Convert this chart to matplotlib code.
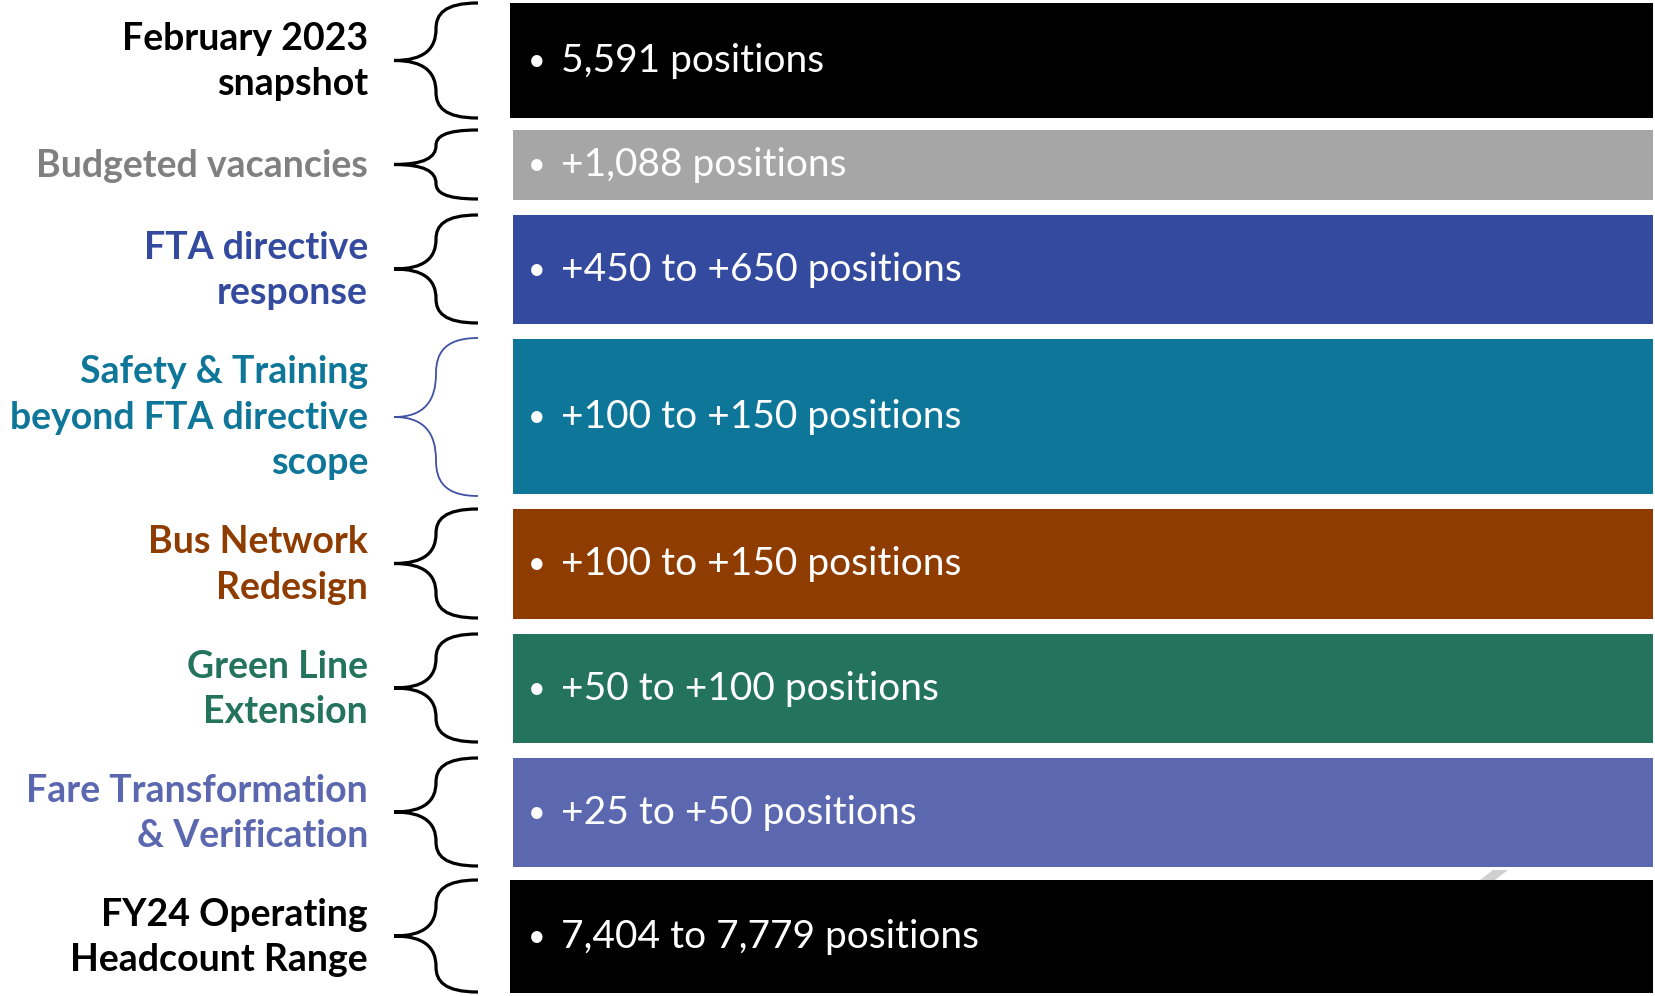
import matplotlib.pyplot as plt
from matplotlib.path import Path
from matplotlib.patches import PathPatch, Rectangle, Polygon

W, H = 1655, 996

labels = [
    "February 2023\nsnapshot",
    "Budgeted vacancies",
    "FTA directive\nresponse",
    "Safety & Training\nbeyond FTA directive\nscope",
    "Bus Network\nRedesign",
    "Green Line\nExtension",
    "Fare Transformation\n& Verification",
    "FY24 Operating\nHeadcount Range",
]
bar_texts = [
    "5,591 positions",
    "+1,088 positions",
    "+450 to +650 positions",
    "+100 to +150 positions",
    "+100 to +150 positions",
    "+50 to +100 positions",
    "+25 to +50 positions",
    "7,404 to 7,779 positions",
]
bar_colors = ["#000000", "#A6A6A6", "#334A9E", "#0E7799",
              "#8E3C00", "#24735C", "#5B68B0", "#000000"]
label_colors = ["#000000", "#808080", "#334A9E", "#0E7799",
                "#8E3C00", "#24735C", "#5B68B0", "#000000"]

# layout in pixels (top, bottom of each band)
row_top = [3, 130, 215, 339, 509, 634, 758, 880]
row_bot = [118, 200, 324, 494, 619, 743, 867, 993]

plt.rcParams['font.family'] = ['Lato', 'DejaVu Sans']

fig = plt.figure(figsize=(W / 100, H / 100), dpi=100)
ax = fig.add_axes([0, 0, 1, 1])
ax.set_xlim(0, W)
ax.set_ylim(H, 0)
ax.axis('off')


def brace(ax, top, bot, color, lw, x_tip=394, x_mid=436, x_end=478):
    mid = (top + bot) / 2
    h1 = mid - top
    h2 = bot - mid
    verts = [
        (x_end, top),
        (x_mid + 8, top), (x_mid, top + 0.2 * h1), (x_mid, top + 0.45 * h1),
        (x_mid, mid - 0.2 * h1), (x_mid - 12, mid), (x_tip, mid),
        (x_mid - 12, mid), (x_mid, mid + 0.2 * h2), (x_mid, mid + 0.55 * h2),
        (x_mid, bot - 0.2 * h2), (x_mid + 8, bot), (x_end, bot),
    ]
    codes = [Path.MOVETO] + [Path.CURVE4] * 12
    ax.add_patch(PathPatch(Path(verts, codes), fill=False, ec=color, lw=lw,
                           capstyle='butt', joinstyle='miter'))


# faint background arrow fragment
ax.add_patch(Polygon([(1480, 880), (1493, 870), (1508, 870), (1495, 880)],
                     closed=True, fc="#D0D0D0", ec="none", zorder=0))

for i in range(len(labels)):
    top, bot = row_top[i], row_bot[i]
    x0 = 510 if bar_colors[i] == "#000000" else 513
    ax.add_patch(Rectangle((x0, top), 1653 - x0, bot - top,
                           fc=bar_colors[i], ec="none", zorder=1))
    yc = (top + bot) / 2
    ax.text(528, yc, "•", color="white", fontsize=22, va='center',
            ha='left', zorder=2)
    ax.text(561, yc, bar_texts[i], color="white", fontsize=28,
            va='center', ha='left', zorder=2)
    ax.text(368, yc + 1, labels[i], color=label_colors[i], fontsize=27,
            fontweight='bold', ha='right', va='center', linespacing=1.42)
    if i == 3:
        brace(ax, top - 1, bot + 2, "#3F51A3", 1.3)
    else:
        brace(ax, top, bot - 1 if i else bot, "#000000", 2.3)

fig.savefig("out.png", dpi=100)
